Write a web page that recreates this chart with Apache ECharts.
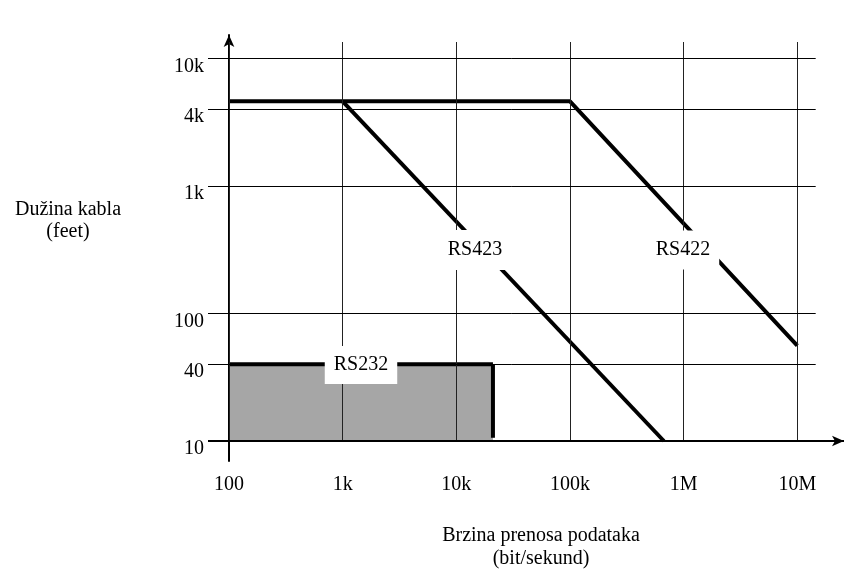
<!DOCTYPE html>
<html><head><meta charset="utf-8">
<script src="https://cdn.jsdelivr.net/npm/echarts@6/dist/echarts.min.js"></script>
<style>html,body{margin:0;padding:0;background:#fff}#c{width:844px;height:574px}</style>
</head><body><div id="c"></div>
<script>
// ---- data ----
const xTickValues = [100, 1000, 10000, 100000, 1000000, 10000000];
const xTickLabels = ['100', '1k', '10k', '100k', '1M', '10M'];
const yTickValues = [10, 40, 100, 1000, 4000, 10000];
const yTickLabels = ['10', '40', '100', '1k', '4k', '10k'];
const rs422 = [[100, 4600], [100000, 4600], [10000000, 56]];
const rs423 = [[1000, 4600], [670000, 10]];
const rs232Top = [[100, 40], [21000, 40]];
const rs232Edge = [[21000, 40], [21000, 10.6]];
const seriesNames = ['RS232', 'RS423', 'RS422'];
const yTitle = 'Dužina kabla\n(feet)';
const xTitle = 'Brzina prenosa podataka\n(bit/sekund)';

// ---- layout ----
const W = 844, H = 574;
const X100 = 229, XDEC = 113.66, Y10 = 441, YDEC = 127.57;
const gL = 208, gR = 815.7, gT = 42, gB = 441;
const xMin = Math.pow(10, 2 - (X100 - gL) / XDEC);
const xMax = Math.pow(10, 7 + (gR - (X100 + 5 * XDEC)) / XDEC);
const yMin = 10;
const yMax = Math.pow(10, 1 + (gB - gT) / YDEC);
const FONT = '"Liberation Serif", "Times New Roman", serif';

function fmt(vals, labels) {
  return function (v) {
    const i = vals.findIndex(t => Math.abs(Math.log10(t) - Math.log10(v)) < 1e-4);
    return i < 0 ? '' : labels[i];
  };
}

const chart = echarts.init(document.getElementById('c'), null, { renderer: 'canvas' });
const thick = { color: '#000', width: 4 };
chart.setOption({
  animation: false,
  backgroundColor: '#fff',
  textStyle: { fontFamily: FONT },
  grid: [
    { left: gL, top: gT, width: gR - gL, height: gB - gT },
    { left: X100, top: 35, right: 0, bottom: H - 461 }
  ],
  xAxis: [
    {
      type: 'log', gridIndex: 0, min: xMin, max: xMax, logBase: 10,
      axisLine: { show: false }, axisTick: { show: false }, splitLine: { show: false },
      axisLabel: {
        customValues: xTickValues,
        formatter: fmt(xTickValues, xTickLabels),
        margin: 34, color: '#000', fontSize: 20, fontFamily: FONT,
        showMinLabel: true, showMaxLabel: true
      }
    },
    {
      type: 'value', gridIndex: 1, min: 0, max: 1,
      axisLine: { show: true, onZero: true, symbol: ['none', 'arrow'], symbolSize: [8, 12], lineStyle: { color: '#000', width: 2 } },
      axisTick: { show: false }, axisLabel: { show: false }, splitLine: { show: false }
    }
  ],
  yAxis: [
    {
      type: 'log', gridIndex: 0, min: yMin, max: yMax, logBase: 10,
      axisLine: { show: false }, axisTick: { show: false }, splitLine: { show: false },
      axisLabel: {
        customValues: yTickValues,
        formatter: fmt(yTickValues, yTickLabels),
        margin: 4, color: '#000', fontSize: 20, fontFamily: FONT,
        verticalAlign: 'top', lineHeight: 16
      }
    },
    {
      type: 'value', gridIndex: 1, min: -20, max: 406,
      axisLine: { show: true, onZero: true, symbol: ['none', 'arrow'], symbolSize: [8, 12], lineStyle: { color: '#000', width: 2 } },
      axisTick: { show: false }, axisLabel: { show: false }, splitLine: { show: false }
    }
  ],
  series: [
    {
      name: 'RS232 area', type: 'line', data: rs232Top, symbol: 'none', z: 1,
      lineStyle: { width: 0 }, areaStyle: { color: '#a6a6a6', opacity: 1, origin: 'start' }
    },
    {
      name: 'grid', type: 'line', data: [], z: 2,
      markLine: {
        silent: true, symbol: ['none', 'none'], label: { show: false },
        lineStyle: { color: '#222', width: 1, type: 'solid' },
        data: xTickValues.map(v => ({ xAxis: v }))
          .concat(yTickValues.map(v => ({ yAxis: v, lineStyle: { color: '#000', width: v === 10 ? 2 : 1, type: 'solid' } })))
      }
    },
    { name: 'RS232', type: 'line', data: rs232Top, symbol: 'none', z: 3, lineStyle: thick },
    { name: 'RS232 edge', type: 'line', data: rs232Edge, symbol: 'none', z: 3, lineStyle: thick },
    { name: 'RS423', type: 'line', data: rs423, symbol: 'none', z: 3, lineStyle: thick },
    { name: 'RS422', type: 'line', data: rs422, symbol: 'none', z: 3, lineStyle: thick }
  ],
  graphic: [
    { type: 'text', x: 361, y: 365, z: 100, style: { text: seriesNames[0], font: '20px ' + FONT, fill: '#000', align: 'center', verticalAlign: 'middle', backgroundColor: '#fff', padding: [9, 9, 9, 9] } },
    { type: 'text', x: 475, y: 250, z: 100, style: { text: seriesNames[1], font: '20px ' + FONT, fill: '#000', align: 'center', verticalAlign: 'middle', backgroundColor: '#fff', padding: [10, 9, 10, 9] } },
    { type: 'text', x: 683, y: 250, z: 100, style: { text: seriesNames[2], font: '20px ' + FONT, fill: '#000', align: 'center', verticalAlign: 'middle', backgroundColor: '#fff', padding: [9, 9, 10, 9] } },
    { type: 'text', x: 68, y: 221, z: 100, style: { text: yTitle, font: '20px ' + FONT, fill: '#000', align: 'center', verticalAlign: 'middle', lineHeight: 22 } },
    { type: 'text', x: 541, y: 547, z: 100, style: { text: xTitle, font: '20px ' + FONT, fill: '#000', align: 'center', verticalAlign: 'middle', lineHeight: 23 } }
  ]
});
</script>
</body></html>
